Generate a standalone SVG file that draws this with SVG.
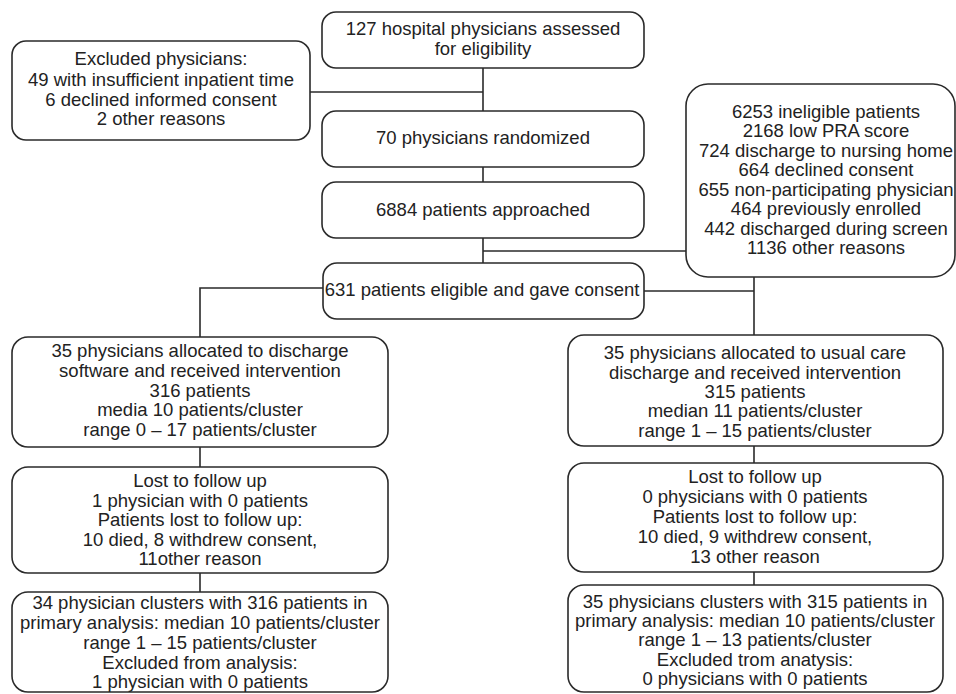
<svg xmlns="http://www.w3.org/2000/svg" width="956" height="694" viewBox="0 0 956 694">
<style>
.box{fill:#fff;stroke:#2a2a2a;stroke-width:1.6}
.ln{fill:none;stroke:#2a2a2a;stroke-width:1.6}
text{font-family:"Liberation Sans",Arial,sans-serif;font-size:18.5px;fill:#222;text-anchor:middle}
</style>
<rect width="956" height="694" fill="#fff"/>
<g id="connectors">
<path class="ln" d="M483 68V263"/>
<path class="ln" d="M310 92H483"/>
<path class="ln" d="M483 251H686"/>
<path class="ln" d="M323 288H200V337"/>
<path class="ln" d="M644 291H754"/>
<path class="ln" d="M754 277V335"/>
<path class="ln" d="M200 447V467"/>
<path class="ln" d="M200 573V592"/>
<path class="ln" d="M754 446V463"/>
<path class="ln" d="M754 572V585"/>
</g>
<g id="n_assessed">
<rect class="box" x="322" y="12" width="322" height="56" rx="14"/>
<text x="483" y="35">127 hospital physicians assessed</text>
<text x="483" y="55">for eligibility</text>
</g>
<g id="n_excluded">
<rect class="box" x="12" y="41" width="298" height="99" rx="14"/>
<text x="161" y="65">Excluded physicians:</text>
<text x="161" y="86">49 with insufficient inpatient time</text>
<text x="161" y="106">6 declined informed consent</text>
<text x="161" y="125">2 other reasons</text>
</g>
<g id="n_randomized">
<rect class="box" x="322" y="111" width="322" height="56" rx="14"/>
<text x="483" y="144">70 physicians randomized</text>
</g>
<g id="n_approached">
<rect class="box" x="322" y="182" width="322" height="56" rx="14"/>
<text x="483" y="216">6884 patients approached</text>
</g>
<g id="n_ineligible">
<rect class="box" x="686" y="84" width="269" height="193" rx="22"/>
<text x="826" y="118">6253 ineligible patients</text>
<text x="826" y="137">2168 low PRA score</text>
<text x="826" y="157">724 discharge to nursing home</text>
<text x="826" y="176">664 declined consent</text>
<text x="826" y="196">655 non-participating physician</text>
<text x="826" y="215">464 previously enrolled</text>
<text x="826" y="235">442 discharged during screen</text>
<text x="826" y="254">1136 other reasons</text>
</g>
<g id="n_eligible">
<rect class="box" x="323" y="263" width="321" height="56" rx="14"/>
<text x="482" y="296">631 patients eligible and gave consent</text>
</g>
<g id="n_alloc_left">
<rect class="box" x="12" y="337" width="376" height="110" rx="16"/>
<text x="200" y="357">35 physicians allocated to discharge</text>
<text x="200" y="377">software and received intervention</text>
<text x="200" y="397">316 patients</text>
<text x="200" y="416">media 10 patients/cluster</text>
<text x="200" y="436">range 0 – 17 patients/cluster</text>
</g>
<g id="n_alloc_right">
<rect class="box" x="568" y="335" width="375" height="111" rx="16"/>
<text x="755" y="359">35 physicians allocated to usual care</text>
<text x="755" y="379">discharge and received intervention</text>
<text x="755" y="398">315 patients</text>
<text x="755" y="417">median 11 patients/cluster</text>
<text x="755" y="437">range 1 – 15 patients/cluster</text>
</g>
<g id="n_lost_left">
<rect class="box" x="12" y="467" width="376" height="106" rx="16"/>
<text x="200" y="487">Lost to follow up</text>
<text x="200" y="507">1 physician with 0 patients</text>
<text x="200" y="526">Patients lost to follow up:</text>
<text x="200" y="546">10 died, 8 withdrew consent,</text>
<text x="200" y="565">11other reason</text>
</g>
<g id="n_lost_right">
<rect class="box" x="568" y="463" width="375" height="109" rx="16"/>
<text x="755" y="483">Lost to follow up</text>
<text x="755" y="503">0 physicians with 0 patients</text>
<text x="755" y="523">Patients lost to follow up:</text>
<text x="755" y="543">10 died, 9 withdrew consent,</text>
<text x="755" y="563">13 other reason</text>
</g>
<g id="n_final_left">
<rect class="box" x="12" y="592" width="376" height="100" rx="16"/>
<text x="200" y="609">34 physician clusters with 316 patients in</text>
<text x="200" y="629">primary analysis: median 10 patients/cluster</text>
<text x="200" y="649">range 1 – 15 patients/cluster</text>
<text x="200" y="669">Excluded from analysis:</text>
<text x="200" y="688">1 physician with 0 patients</text>
</g>
<g id="n_final_right">
<rect class="box" x="568" y="585" width="375" height="107" rx="16"/>
<text x="755" y="608">35 physicians clusters with 315 patients in</text>
<text x="755" y="627">primary analysis: median 10 patients/cluster</text>
<text x="755" y="646">range 1 – 13 patients/cluster</text>
<text x="755" y="666">Excluded trom anatysis:</text>
<text x="755" y="685">0 physicians with 0 patients</text>
</g>
</svg>
